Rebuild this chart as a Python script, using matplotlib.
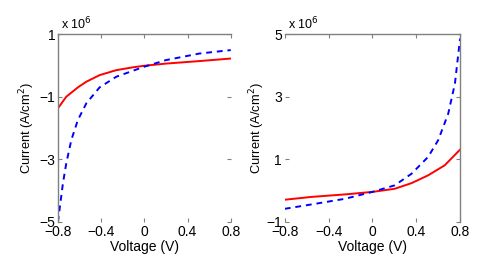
import numpy as np
import matplotlib.pyplot as plt

plt.rcParams['font.family'] = ['Liberation Sans', 'DejaVu Sans']

# left panel (values in units of 1e6 A/cm^2)
v_red_l = [-0.8, -0.723, -0.615, -0.537, -0.414, -0.259, -0.105, 0.0, 0.204, 0.513, 0.8]
i_red_l = [-1.37, -1.0, -0.70, -0.52, -0.31, -0.15, -0.06, -0.01, 0.06, 0.14, 0.22]
v_blue_l = [-0.8, -0.785, -0.754, -0.723, -0.676, -0.615, -0.537, -0.414, -0.259, -0.105, 0.0, 0.2, 0.51, 0.8]
i_blue_l = [-5.0, -4.6, -3.77, -3.13, -2.38, -1.74, -1.21, -0.70, -0.36, -0.17, -0.04, 0.17, 0.38, 0.49]

# right panel
v_red_r = [-0.8, -0.556, -0.25, 0.0, 0.204, 0.357, 0.509, 0.66, 0.8]
i_red_r = [-0.29, -0.20, -0.12, -0.04, 0.06, 0.24, 0.49, 0.81, 1.31]
v_blue_r = [-0.8, -0.556, -0.25, 0.0, 0.204, 0.357, 0.509, 0.6, 0.692, 0.753, 0.8]
i_blue_r = [-0.58, -0.44, -0.26, -0.04, 0.17, 0.54, 1.08, 1.61, 2.46, 3.42, 4.86]

xticks = [-0.8, -0.4, 0, 0.4, 0.8]
xticklabels = ['\u22120.8', '\u22120.4', '0', '0.4', '0.8']

fig = plt.figure(figsize=(4.91, 2.73), dpi=100)
ax1 = fig.add_axes([0.118, 0.187, 0.352, 0.688])
ax2 = fig.add_axes([0.580, 0.187, 0.357, 0.688])

grey = '#808080'


def style(ax, ylim, yticks, spines_on, ylab_x):
    ax.set_xlim(-0.8, 0.8)
    ax.set_ylim(*ylim)
    ax.set_xticks(xticks)
    ax.set_xticklabels(xticklabels)
    ax.set_yticks(yticks)
    ax.set_yticklabels([str(t).replace('-', '\u2212') for t in yticks])
    for name, sp in ax.spines.items():
        sp.set_visible(name in spines_on)
        sp.set_color(grey)
        sp.set_linewidth(1.0)
    ax.tick_params(direction='in', length=3, color=grey, labelsize=10,
                   top=True, right=True, pad=2)
    ax.set_xlabel('Voltage (V)', fontsize=10, labelpad=1)
    ax.set_ylabel('Current (A/cm$^2$)', fontsize=9.3)
    ax.yaxis.set_label_coords(ylab_x, 0.5)
    ax.text(0.02, 1.01, 'x 10$^6$', transform=ax.transAxes, fontsize=9,
            ha='left', va='bottom')


ax1.plot(v_red_l, i_red_l, color='red', lw=1.4)
ax1.plot(v_blue_l, i_blue_l, color='blue', lw=1.4, ls='--', dashes=(3, 2.5))
style(ax1, (-5, 1), [-5, -3, -1, 1], ('left', 'top'), -0.12)

ax2.plot(v_red_r, i_red_r, color='red', lw=1.4)
ax2.plot(v_blue_r, i_blue_r, color='blue', lw=1.4, ls='--', dashes=(3, 2.5))
style(ax2, (-1, 5), [-1, 1, 3, 5], ('right', 'top'), -0.10)

fig.savefig('out.png', dpi=100)
